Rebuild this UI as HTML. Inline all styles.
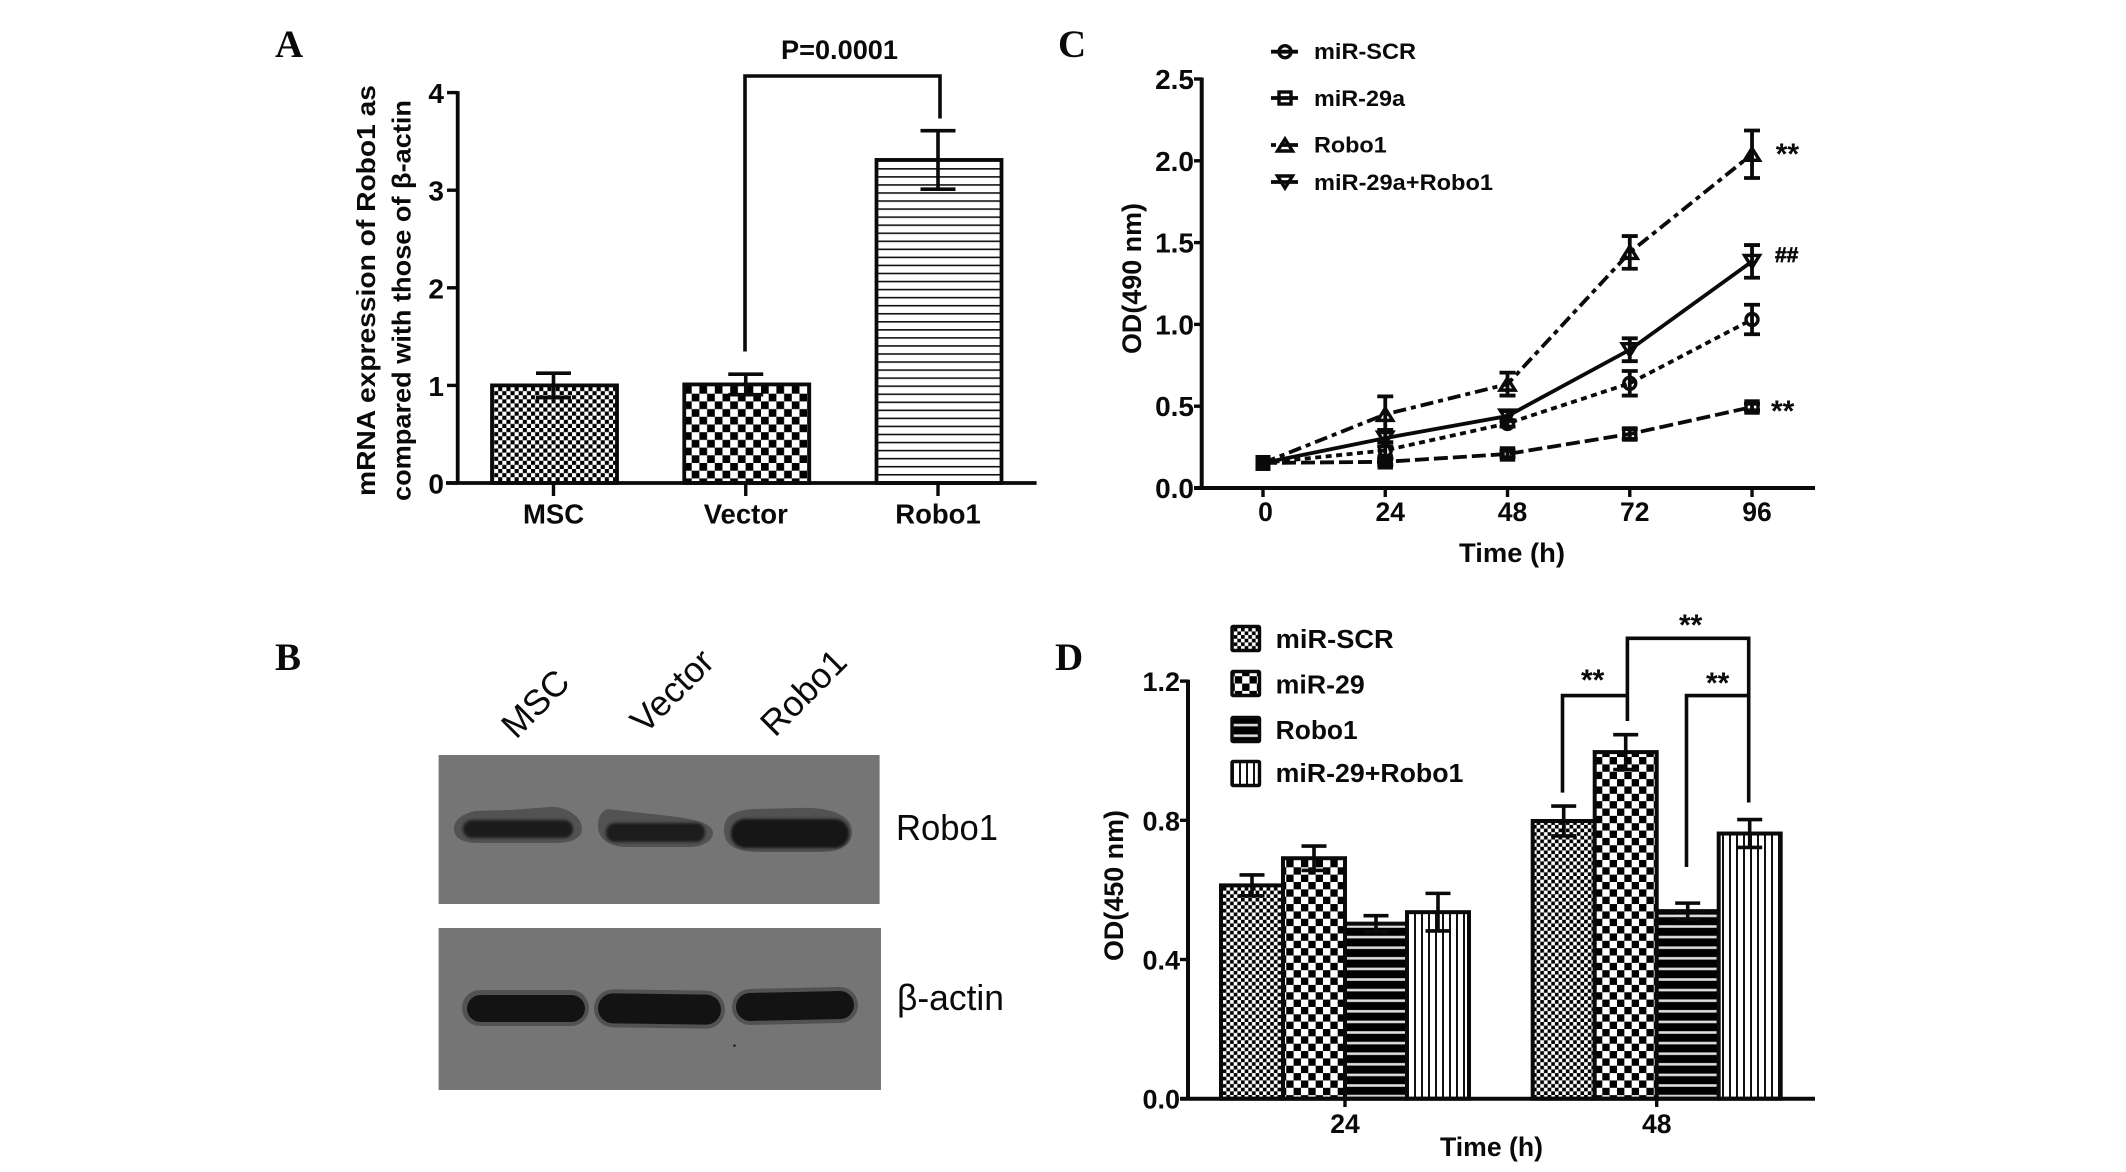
<!DOCTYPE html>
<html lang="en">
<head>
<meta charset="utf-8">
<title>Robo1 expression figure</title>
<style>
html,body{margin:0;padding:0;background:#fff;}
svg{display:block;}
text{font-family:"Liberation Sans",Arial,sans-serif;fill:#0a0a0a;}
.b{font-weight:bold;}
.letter{font-family:"Liberation Serif",serif;font-weight:bold;font-size:39px;}
</style>
</head>
<body>
<svg id="fig" xmlns="http://www.w3.org/2000/svg" width="2126" height="1172" viewBox="0 0 2126 1172">
<defs>
<filter id="soft" x="-10%" y="-30%" width="120%" height="160%"><feGaussianBlur stdDeviation="1.3"/></filter>
<pattern id="pA1" patternUnits="userSpaceOnUse" x="490" y="387" width="8.2" height="8.2"><rect width="8.2" height="8.2" fill="#fff"/><rect width="4.1" height="4.1" fill="#000"/><rect x="4.1" y="4.1" width="4.1" height="4.1" fill="#000"/></pattern>
<pattern id="pA2" patternUnits="userSpaceOnUse" x="684" y="386" width="15.4" height="15.4"><rect width="15.4" height="15.4" fill="#fff"/><rect width="7.7" height="7.7" fill="#000"/><rect x="7.7" y="7.7" width="7.7" height="7.7" fill="#000"/></pattern>
<pattern id="pA3" patternUnits="userSpaceOnUse" x="0" y="160" width="8" height="8.05"><rect width="8" height="8.05" fill="#fff"/><rect width="8" height="1.6" fill="#111"/></pattern>
<pattern id="pD1" patternUnits="userSpaceOnUse" x="0" y="0" width="7.3" height="7.3"><rect width="7.3" height="7.3" fill="#fff"/><rect width="3.65" height="3.65" fill="#000"/><rect x="3.65" y="3.65" width="3.65" height="3.65" fill="#000"/></pattern>
<pattern id="pD2" patternUnits="userSpaceOnUse" x="0" y="0" width="14.7" height="14.7"><rect width="14.7" height="14.7" fill="#fff"/><rect width="7.35" height="7.35" fill="#000"/><rect x="7.35" y="7.35" width="7.35" height="7.35" fill="#000"/></pattern>
<pattern id="pD3" patternUnits="userSpaceOnUse" x="0" y="0" width="10.6" height="10.6"><rect width="10.6" height="10.6" fill="#000"/><rect y="3" width="10.6" height="2.6" fill="#ddd"/></pattern>
<pattern id="pD4" patternUnits="userSpaceOnUse" x="0" y="0" width="7" height="7"><rect width="7" height="7" fill="#fff"/><rect width="2" height="7" fill="#111"/></pattern>
</defs>

<text class="letter" x="275" y="57">A</text>
<text class="letter" x="1058" y="57">C</text>
<text class="letter" x="275" y="670">B</text>
<text class="letter" x="1055" y="670">D</text>

<!-- Panel A static annotation -->
<g id="panelA">
<text class="b" transform="translate(375,496) rotate(-90)" font-size="26" textLength="411" lengthAdjust="spacingAndGlyphs">mRNA expression of Robo1 as</text>
<text class="b" transform="translate(410.5,501) rotate(-90)" font-size="26" textLength="401" lengthAdjust="spacingAndGlyphs">compared with those of β-actin</text>
<text class="b" x="781" y="59" font-size="27" textLength="117" lengthAdjust="spacingAndGlyphs">P=0.0001</text>
<path d="M745 351.5V76H940V118.5" fill="none" stroke="#0a0a0a" stroke-width="3.6"/>
</g>

<!-- Panel C static -->
<g id="panelC">
<text class="b" transform="translate(1141,354) rotate(-90)" font-size="27" textLength="151" lengthAdjust="spacingAndGlyphs">OD(490 nm)</text>
<text class="b" x="1459" y="562" font-size="27" textLength="106" lengthAdjust="spacingAndGlyphs">Time (h)</text>
<text class="b" x="1775.7" y="164" font-size="30">**</text>
<text class="b" x="1775" y="262" font-size="21" stroke="#0a0a0a" stroke-width="0.7">##</text>
<text class="b" x="1771" y="421" font-size="30">**</text>
</g>

<!-- Panel B western blot -->
<g id="panelB">
<text transform="translate(516,740) rotate(-45)" font-size="35.5">MSC</text>
<text transform="translate(645,735) rotate(-45)" font-size="35.5">Vector</text>
<text transform="translate(775,738) rotate(-45)" font-size="35.5">Robo1</text>
<g>
<rect x="438.6" y="755" width="441" height="149" fill="#757575"/>
<path d="M454 829C454 820 462 814 475 811L510 810L550 807C565 806 582 816 582 829C582 838 572 843 555 843L480 843C462 843 454 838 454 829Z" fill="#525252"/>
<rect x="463" y="820" width="110" height="18" rx="9" fill="#1c1c1c" filter="url(#soft)"/>
<path d="M598 826C598 816 602 811 608 809L625 811L660 815C690 818 713 822 713 833C713 842 700 847 690 847L625 847C608 846 598 838 598 826Z" fill="#525252"/>
<rect x="606" y="823" width="99" height="19" rx="9" fill="#1c1c1c" filter="url(#soft)"/>
<path d="M724 830C724 815 735 810 755 809L800 808C830 807 852 815 852 832C852 848 835 852 820 852L760 852C735 852 724 845 724 830Z" fill="#525252"/>
<rect x="731" y="819" width="118" height="29" rx="14" fill="#171717" filter="url(#soft)"/>
</g>
<g>
<rect x="438.6" y="928" width="442.4" height="162" fill="#757575"/>
<rect x="462" y="990" width="127" height="36" rx="18" fill="#525252"/>
<rect x="467" y="995" width="118" height="27" rx="13.5" fill="#131313"/>
<rect x="594" y="990" width="131" height="38" rx="19" fill="#525252" transform="rotate(0.8 660 1009)"/>
<rect x="598" y="994" width="123" height="30" rx="15" fill="#131313" transform="rotate(0.8 660 1009)"/>
<rect x="732" y="988" width="126" height="36" rx="18" fill="#525252" transform="rotate(-1.2 795 1006)"/>
<rect x="736" y="992" width="118" height="28" rx="14" fill="#131313" transform="rotate(-1.2 795 1006)"/>
<circle cx="734.5" cy="1045.7" r="1.2" fill="#111"/>
</g>
<text x="896" y="840" font-size="36" textLength="102" lengthAdjust="spacingAndGlyphs">Robo1</text>
<text x="897" y="1010" font-size="36" textLength="107" lengthAdjust="spacingAndGlyphs">β-actin</text>
</g>

<!-- Panel D static -->
<g id="panelD">
<text class="b" transform="translate(1123,961) rotate(-90)" font-size="27" textLength="151" lengthAdjust="spacingAndGlyphs">OD(450 nm)</text>
<text class="b" x="1440" y="1156" font-size="27" textLength="103" lengthAdjust="spacingAndGlyphs">Time (h)</text>
<path d="M1627.4 721V638.3H1748.7V802.5" fill="none" stroke="#0a0a0a" stroke-width="3.6"/>
<path d="M1562.5 792.6V695.6H1627.4" fill="none" stroke="#0a0a0a" stroke-width="3.6"/>
<path d="M1686.5 867V695.6H1748.7" fill="none" stroke="#0a0a0a" stroke-width="3.6"/>
<text class="b" x="1679" y="635" font-size="30">**</text>
<text class="b" x="1581" y="690" font-size="30">**</text>
<text class="b" x="1706" y="693" font-size="30">**</text>
</g>
</svg>

<script>
// Panel A data
const aCategories = ['MSC', 'Vector', 'Robo1'];
const aValues = [1.0, 1.01, 3.31];
const aErrors = [0.125, 0.105, 0.30];
const aTicks = [0, 1, 2, 3, 4];
const aFills = ['pA1', 'pA2', 'pA3'];

// Panel C data
const cTimes = [0, 24, 48, 72, 96];
const cYTicks = [0, 0.5, 1.0, 1.5, 2.0, 2.5];
const cYLabels = ['0.0', '0.5', '1.0', '1.5', '2.0', '2.5'];
const cScr = [0.153, 0.23, 0.395, 0.64, 1.03];
const cScrErr = [0, 0.05, 0.02, 0.075, 0.09];
const cMir = [0.153, 0.16, 0.208, 0.33, 0.495];
const cMirErr = [0, 0.02, 0.02, 0.03, 0.02];
const cRobo = [0.153, 0.45, 0.635, 1.44, 2.04];
const cRoboErr = [0, 0.11, 0.07, 0.10, 0.145];
const cCombo = [0.153, 0.305, 0.44, 0.845, 1.385];
const cComboErr = [0, 0.05, 0.03, 0.07, 0.10];
const cNames = ['miR-SCR', 'miR-29a', 'Robo1', 'miR-29a+Robo1'];

// Panel D data
const dGroups = ['24', '48'];
const dYTicks = [0, 0.4, 0.8, 1.2];
const dYLabels = ['0.0', '0.4', '0.8', '1.2'];
const dNames = ['miR-SCR', 'miR-29', 'Robo1', 'miR-29+Robo1'];
const dScr = [0.613, 0.798];
const dScrErr = [0.03, 0.043];
const dMir = [0.691, 0.996];
const dMirErr = [0.035, 0.05];
const dRobo = [0.503, 0.539];
const dRoboErr = [0.023, 0.023];
const dCombo = [0.536, 0.762];
const dComboErr = [0.054, 0.04];

const NS = 'http://www.w3.org/2000/svg';
const INK = '#0a0a0a';

function add(parent, tag, attrs, name, text) {
  const el = document.createElementNS(NS, tag);
  for (const k in attrs) el.setAttribute(k, attrs[k]);
  
  
  if (text !== undefined) el.textContent = text;
  parent.appendChild(el);
  return el;
}
function line(p, x1, y1, x2, y2, w, name) {
  return add(p, 'line', {x1: x1, y1: y1, x2: x2, y2: y2, stroke: INK, 'stroke-width': w}, name);
}
function errorBar(p, x, y, yTop, yBot, half, w, name) {
  line(p, x, yTop, x, yBot, w, name + '-stem');
  line(p, x - half, yTop, x + half, yTop, w, name + '-cap-top');
  line(p, x - half, yBot, x + half, yBot, w, name + '-cap-bottom');
}

/* ---------- Panel A ---------- */
const gA = document.getElementById('panelA');
const yA = v => 483 - 97.6 * v;
const xA = i => 554.5 + 192.25 * i;
aCategories.forEach((c, i) => {
  add(gA, 'rect', {x: xA(i) - 62.5, y: yA(aValues[i]), width: 125, height: yA(0) - yA(aValues[i]), fill: 'url(#' + aFills[i] + ')', stroke: INK, 'stroke-width': 3.8}, 'bar-' + c.toLowerCase());
  errorBar(gA, xA(i) - 1, yA(aValues[i]), yA(aValues[i] + aErrors[i]), yA(aValues[i] - aErrors[i]), 17.5, 3.6, 'error-bar-' + c.toLowerCase());
  line(gA, xA(i) - 1, yA(0), xA(i) - 1, 496, 3.4, 'x-tick-' + c.toLowerCase());
  add(gA, 'text', {x: xA(i) - 1, y: 523.5, 'text-anchor': 'middle', 'font-size': 27.5, class: 'b'}, 'x-label-' + c.toLowerCase(), c);
});
line(gA, 457.7, yA(4) - 1.5, 457.7, yA(0), 3.8, 'y-axis');
line(gA, 446, yA(0), 1036.6, yA(0), 3.8, 'x-axis');
aTicks.forEach(t => {
  line(gA, 447, yA(t), 457.7, yA(t), 3.4, 'y-tick-' + t);
  add(gA, 'text', {x: 444, y: yA(t) + 10.5, 'text-anchor': 'end', 'font-size': 28, class: 'b'}, 'y-label-' + t, String(t));
});

/* ---------- Panel C ---------- */
const gC = document.getElementById('panelC');
const xC = t => 1263 + 5.094 * t;
const yC = v => 488 - 163.6 * v;

function marker(p, kind, x, y, name) {
  const s = {fill: 'none', stroke: INK, 'stroke-width': 3.4};
  if (kind === 0) return add(p, 'circle', Object.assign({cx: x, cy: y, r: 6}, s), name);
  if (kind === 1) return add(p, 'rect', Object.assign({x: x - 6, y: y - 6, width: 12, height: 12}, s), name);
  if (kind === 2) return add(p, 'path', Object.assign({d: 'M' + x + ' ' + (y - 6) + 'L' + (x + 7.5) + ' ' + (y + 6) + 'H' + (x - 7.5) + 'Z'}, s), name);
  return add(p, 'path', Object.assign({d: 'M' + x + ' ' + (y + 6) + 'L' + (x + 7.5) + ' ' + (y - 6) + 'H' + (x - 7.5) + 'Z'}, s), name);
}

const cSeries = [cScr, cMir, cRobo, cCombo];
const cErrors = [cScrErr, cMirErr, cRoboErr, cComboErr];
const cDashes = ['6 4.5', '14 5', '13 5 5 5', 'none'];
line(gC, 1201.7, yC(2.5) - 1.5, 1201.7, yC(0), 4, 'y-axis-c');
line(gC, 1194, yC(0), 1815, yC(0), 4, 'x-axis-c');
cYTicks.forEach((t, i) => {
  line(gC, 1194, yC(t), 1201.7, yC(t), 3.4, 'y-tick-c-' + cYLabels[i]);
  add(gC, 'text', {x: 1194, y: yC(t) + 10, 'text-anchor': 'end', 'font-size': 28, class: 'b'}, 'y-label-c-' + cYLabels[i], cYLabels[i]);
});
cTimes.forEach(t => {
  const label = String(t);
  line(gC, xC(t), yC(0), xC(t), 497, 3.4, 'x-tick-c-' + t);
  add(gC, 'text', {x: xC(t) + (label.length > 1 ? 5 : 2.5), y: 521, 'text-anchor': 'middle', 'font-size': 26.5, class: 'b'}, 'x-label-c-' + t, label);
});
cSeries.forEach((vals, s) => {
  const key = cNames[s].toLowerCase();
  const pts = cTimes.map((t, i) => xC(t) + ',' + yC(vals[i])).join(' ');
  add(gC, 'polyline', {points: pts, fill: 'none', stroke: INK, 'stroke-width': 3.8, 'stroke-dasharray': cDashes[s]}, 'line-' + key);
  cTimes.forEach((t, i) => {
    if (cErrors[s][i] > 0) {
      errorBar(gC, xC(t), yC(vals[i]), yC(vals[i] + cErrors[s][i]), yC(vals[i] - cErrors[s][i]), 8, 3.8, 'error-bar-' + key + '-' + t);
    }
  });
});
cSeries.forEach((vals, s) => {
  const key = cNames[s].toLowerCase();
  cTimes.forEach((t, i) => {
    if (i > 0) marker(gC, s, xC(t), yC(vals[i]), 'point-' + key + '-' + t);
  });
});
add(gC, 'rect', {x: xC(0) - 7.5, y: yC(cScr[0]) - 8, width: 15, height: 16, fill: INK}, 'point-overlap-0');

const cLegendY = [51.7, 98, 145, 182];
const cLegendBase = [59, 106, 152.5, 190];
const cLegendLen = [102, 91, 72.7, 179];
cNames.forEach((n, s) => {
  const key = n.toLowerCase();
  add(gC, 'line', {x1: 1271, y1: cLegendY[s], x2: 1298, y2: cLegendY[s], stroke: INK, 'stroke-width': 3.8, 'stroke-dasharray': s === 2 ? '5 4 18' : 'none'}, 'legend-line-' + key);
  marker(gC, s, 1285, cLegendY[s], 'legend-marker-' + key);
  add(gC, 'text', {x: 1314, y: cLegendBase[s], 'font-size': 22, class: 'b', textLength: cLegendLen[s], lengthAdjust: 'spacingAndGlyphs'}, 'legend-label-' + key, n);
});

/* ---------- Panel D ---------- */
const gD = document.getElementById('panelD');
const yD = v => 1098.7 - 348 * v;
const xD = g => 1345 + 311.7 * g;
const dSeries = [dScr, dMir, dRobo, dCombo];
const dErrors = [dScrErr, dMirErr, dRoboErr, dComboErr];
const dFills = ['pD1', 'pD2', 'pD3', 'pD4'];
dGroups.forEach((g, gi) => {
  dSeries.forEach((vals, s) => {
    const left = xD(gi) + (s - 2) * 62;
    add(gD, 'rect', {x: left, y: yD(vals[gi]), width: 62, height: yD(0) - yD(vals[gi]), fill: 'url(#' + dFills[s] + ')', stroke: INK, 'stroke-width': 4}, 'bar-' + dNames[s].toLowerCase() + '-' + g);
  });
  dSeries.forEach((vals, s) => {
    const cx = xD(gi) + (s - 2) * 62 + 31;
    errorBar(gD, cx, yD(vals[gi]), yD(vals[gi] + dErrors[s][gi]), yD(vals[gi] - dErrors[s][gi]), 12.5, 3.6, 'error-bar-' + dNames[s].toLowerCase() + '-' + g);
  });
  line(gD, xD(gi), yD(0), xD(gi), 1107, 3.4, 'x-tick-d-' + g);
  add(gD, 'text', {x: xD(gi), y: 1133, 'text-anchor': 'middle', 'font-size': 26.5, class: 'b'}, 'x-label-d-' + g, g);
});
line(gD, 1188, yD(1.2) - 1.5, 1188, yD(0), 4, 'y-axis-d');
line(gD, 1180, yD(0), 1815, yD(0), 4, 'x-axis-d');
dYTicks.forEach((t, i) => {
  line(gD, 1180, yD(t), 1188, yD(t), 3.4, 'y-tick-d-' + dYLabels[i]);
  add(gD, 'text', {x: 1180, y: yD(t) + 10, 'text-anchor': 'end', 'font-size': 27, class: 'b'}, 'y-label-d-' + dYLabels[i], dYLabels[i]);
});
const dLegendTop = [625, 670, 716, 760];
const dLegendBase = [648, 693.5, 739, 782];
const dLegendLen = [118, 89, 82, 187.7];
dNames.forEach((n, s) => {
  const key = n.toLowerCase();
  add(gD, 'rect', {x: 1232, y: dLegendTop[s] + 1.5, width: 27.5, height: 24, rx: 1, fill: 'url(#' + dFills[s] + ')', stroke: INK, 'stroke-width': 3.4}, 'legend-swatch-' + key);
  add(gD, 'text', {x: 1275.7, y: dLegendBase[s], 'font-size': 25.5, class: 'b', textLength: dLegendLen[s], lengthAdjust: 'spacingAndGlyphs'}, 'legend-label-' + key, n);
});
</script>
</body>
</html>
